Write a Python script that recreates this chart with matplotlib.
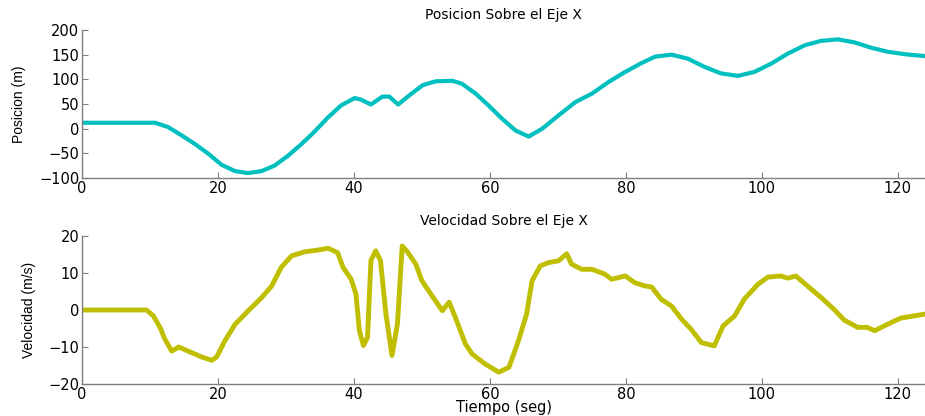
import matplotlib
matplotlib.use('Agg')
import matplotlib.pyplot as plt
import numpy as np

# Posicion sobre el eje X (m)
t_pos = [0, 5, 10.75, 12.7, 14.7, 16.6, 18.6, 20.5, 22.5, 24.4, 26.4, 28.3,
         30.3, 32.3, 34.2, 36.2, 38.1, 40.1, 41.0, 42.5, 44.2, 45.2, 46.5,
         48.1, 50.1, 52.0, 54.5, 55.9, 57.9, 59.8, 61.8, 63.8, 65.7, 67.7,
         70.1, 72.6, 75.0, 77.5, 79.9, 82.3, 84.3, 86.7, 89.1, 91.6, 94.0,
         96.5, 98.9, 101.4, 103.8, 106.3, 108.7, 111.2, 113.6, 116.1, 118.5,
         121.0, 124]
pos = [12, 12, 12, 3, -14, -31, -51, -73, -86, -90, -86, -75, -55, -31, -6,
       23, 47, 62, 59, 49, 65, 65, 49, 67, 88, 96, 97, 91, 71, 47, 20, -4,
       -16, 0, 27, 54, 71, 95, 115, 133, 146, 150, 142, 125, 112, 107, 115,
       132, 152, 169, 178, 181, 175, 164, 156, 151, 147]

# Velocidad sobre el eje X (m/s)
t_vel = [0, 5, 9.5, 10.5, 11.5, 12.2, 13.2, 13.7, 14.2, 15.6, 17.6, 19.1,
         19.8, 21.0, 22.5, 24.4, 26.4, 27.9, 29.3, 30.8, 32.7, 34.7, 36.2,
         37.6, 38.4, 39.6, 40.3, 40.8, 41.4, 42.0, 42.5, 43.2, 43.9, 44.7,
         45.6, 46.4, 47.1, 47.8, 49.1, 50.0, 51.5, 53.0, 54.0, 54.9, 56.4,
         57.4, 59.3, 61.3, 62.8, 64.2, 65.4, 66.2, 67.4, 68.6, 70.1, 71.3,
         72.0, 73.5, 75.0, 76.9, 77.9, 79.9, 81.3, 82.8, 83.8, 85.2, 86.7,
         88.2, 89.6, 91.1, 93.0, 94.3, 96.0, 97.4, 99.4, 100.9, 102.8, 103.8,
         105.0, 106.7, 108.7, 110.6, 112.1, 114.1, 115.5, 116.6, 118.0,
         120.4, 124]
vel = [0, 0, 0, -1.6, -4.8, -7.9, -11.1, -10.6, -10.0, -11.1, -12.7, -13.6,
       -12.7, -8.4, -3.9, -0.3, 3.3, 6.5, 11.5, 14.6, 15.7, 16.2, 16.7, 15.5,
       11.5, 8.3, 4.3, -5.6, -9.6, -7.4, 13.4, 16.0, 13.4, -1.0, -12.3, -3.8,
       17.3, 15.9, 12.4, 7.9, 3.8, -0.2, 2.1, -1.9, -9.2, -11.9, -14.6,
       -16.8, -15.5, -8.3, -1.1, 7.9, 11.9, 12.8, 13.3, 15.2, 12.4, 11.0,
       11.0, 9.7, 8.3, 9.2, 7.4, 6.5, 6.2, 2.9, 1.1, -2.5, -5.2, -8.8, -9.7,
       -4.3, -1.6, 2.9, 6.9, 8.9, 9.2, 8.6, 9.2, 6.5, 3.4, 0.2, -2.7, -4.7,
       -4.7, -5.6, -4.3, -2.2, -1.1]

plt.rcParams['font.family'] = ['DejaVu Sans']

fig = plt.figure(figsize=(9.25, 4.16), dpi=100)
ax1 = fig.add_axes([82/925, 1 - 178/416, 1 - 82/925, 148/416])
ax2 = fig.add_axes([82/925, 1 - 384/416, 1 - 82/925, 148/416])


def style(ax):
    for s in ['top', 'right']:
        ax.spines[s].set_visible(False)
    for s in ['left', 'bottom']:
        ax.spines[s].set_color('#7f7f7f')
        ax.spines[s].set_linewidth(1.0)
    ax.tick_params(direction='in', length=4, colors='#7f7f7f',
                   labelcolor='black', labelsize=10.5, pad=2)
    ax.set_xlim(0, 124)
    ax.set_xticks([0, 20, 40, 60, 80, 100, 120])


narrow = ['Liberation Sans Narrow', 'Liberation Sans']

ax1.plot(t_pos, pos, color=(0, 0.75, 0.75), lw=3, solid_capstyle='round',
         solid_joinstyle='round')
style(ax1)
ax1.set_ylim(-100, 200)
ax1.set_yticks(np.arange(-100, 201, 50))
ax1.set_title('Posicion Sobre el Eje X', fontsize=10, pad=8)
ax1.set_ylabel('Posicion (m)', fontsize=10, family=narrow)
ax1.yaxis.set_label_coords(-0.066, 0.5)

ax2.plot(t_vel, vel, color=(0.75, 0.75, 0), lw=3.5, solid_capstyle='round',
         solid_joinstyle='round')
style(ax2)
ax2.set_ylim(-20, 20)
ax2.set_yticks([-20, -10, 0, 10, 20])
ax2.set_title('Velocidad Sobre el Eje X', fontsize=10, pad=8)
ax2.set_ylabel('Velocidad (m/s)', fontsize=10, family=narrow)
ax2.yaxis.set_label_coords(-0.054, 0.5)
ax2.set_xlabel('Tiempo (seg)', fontsize=10.5, labelpad=-1)

fig.savefig('out.png', dpi=100)
